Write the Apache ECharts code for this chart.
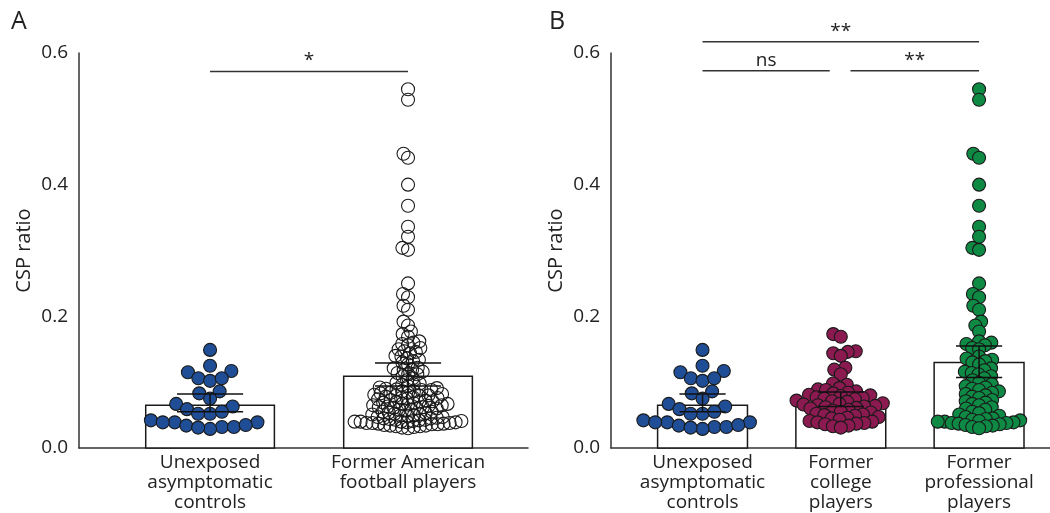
<!DOCTYPE html>
<html><head><meta charset="utf-8">
<script src="https://cdn.jsdelivr.net/npm/echarts@6/dist/echarts.min.js"></script>
<style>html,body{margin:0;padding:0;background:#fff}#c{width:1050px;height:513px}</style>
</head><body><div id="c"></div>
<script>
// ---------- data ----------
const categoriesA = ['Unexposed\nasymptomatic\ncontrols', 'Former American\nfootball players'];
const categoriesB = ['Unexposed\nasymptomatic\ncontrols', 'Former\ncollege\nplayers', 'Former\nprofessional\nplayers'];
const yTicks = [0, 0.2, 0.4, 0.6];

const controls = [0.149, 0.117, 0.125, 0.115, 0.106, 0.102, 0.106, 0.083, 0.086, 0.075, 0.067, 0.063, 0.059,
  0.052, 0.055, 0.052, 0.042, 0.039, 0.039, 0.039, 0.032, 0.029, 0.032, 0.034, 0.031, 0.035];

const college = [0.173, 0.169, 0.147, 0.146, 0.144, 0.140, 0.122, 0.119, 0.112, 0.098, 0.096, 0.091, 0.089, 0.088,
  0.086, 0.084, 0.083, 0.081, 0.080, 0.079, 0.077, 0.076, 0.075, 0.074, 0.072, 0.071, 0.070,
  0.068, 0.067, 0.066, 0.065, 0.064, 0.063, 0.062, 0.061, 0.060, 0.058, 0.057,
  0.055, 0.054, 0.052, 0.051, 0.050, 0.049, 0.047, 0.046, 0.045,
  0.043, 0.041, 0.040, 0.039, 0.038, 0.037, 0.036, 0.034, 0.033, 0.031];

const professional = [0.545, 0.529, 0.447, 0.441, 0.400, 0.368, 0.336, 0.321, 0.304, 0.301,
  0.250, 0.234, 0.229, 0.216, 0.210, 0.192, 0.186, 0.177,
  0.162, 0.160, 0.158, 0.156, 0.152, 0.150,
  0.139, 0.136, 0.134, 0.132, 0.130, 0.127,
  0.121, 0.118, 0.116, 0.114, 0.112, 0.109, 0.106, 0.103,
  0.099, 0.097, 0.094, 0.092, 0.090, 0.088, 0.086, 0.084, 0.082, 0.080, 0.078, 0.076,
  0.073, 0.071, 0.069, 0.067, 0.065, 0.062, 0.060, 0.058, 0.055, 0.053, 0.051, 0.049,
  0.047, 0.045, 0.044, 0.043, 0.042, 0.041, 0.040, 0.040, 0.039, 0.038, 0.038, 0.037,
  0.036, 0.035, 0.034, 0.033, 0.032, 0.030];

const football = college.concat(professional);

const barMeansA = [0.065, 0.109];
const errLowA = [0.055, 0.094];
const errHighA = [0.082, 0.129];
const barMeansB = [0.065, 0.073, 0.130];
const errLowB = [0.055, 0.063, 0.107];
const errHighB = [0.082, 0.085, 0.155];

// significance brackets: [from category, to category, height, label]
const sigA = [[1, 2, 0.572, '*']];
const sigB = [[1, 3, 0.617, '**'], [1, 1.92, 0.573, 'ns'], [2.07, 3, 0.573, '**']];

// ---------- chart ----------
const FONT = '"Open Sans", "Noto Sans", sans-serif';
const INK = '#222';
const chart = echarts.init(document.getElementById('c'), null, {renderer: 'canvas'});

function barData(means, lo, hi) { return means.map((m, i) => [i + 1, m, lo[i], hi[i]]); }

function barRender(params, api) {
  const x = api.value(0), m = api.value(1);
  const p0 = api.coord([x - 0.325, m]);
  const p1 = api.coord([x + 0.325, 0]);
  return {type: 'rect', shape: {x: p0[0], y: p0[1], width: p1[0] - p0[0], height: p1[1] - p0[1]},
    style: {fill: '#fff', stroke: '#1a1a1a', lineWidth: 1.5}};
}
function errRender(params, api) {
  const x = api.value(0), lo = api.value(2), hi = api.value(3);
  const a = api.coord([x - 0.167, hi]), b = api.coord([x + 0.167, hi]);
  const c = api.coord([x - 0.167, lo]), d = api.coord([x + 0.167, lo]);
  const st = {stroke: '#111', lineWidth: 1.5};
  return {type: 'group', children: [
    {type: 'line', shape: {x1: a[0], y1: a[1], x2: b[0], y2: b[1]}, style: st},
    {type: 'line', shape: {x1: c[0], y1: c[1], x2: d[0], y2: d[1]}, style: st},
    {type: 'line', shape: {x1: (a[0] + b[0]) / 2, y1: a[1], x2: (c[0] + d[0]) / 2, y2: c[1]}, style: st}
  ]};
}
const sigSource = {sigA: sigA, sigB: sigB};
function sigRender(params, api) {
  const x1 = api.value(0), x2 = api.value(1), y = api.value(2);
  const label = sigSource[params.seriesName][params.dataIndex][3];
  const p1 = api.coord([x1, y]), p2 = api.coord([x2, y]);
  return {type: 'group', children: [
    {type: 'line', shape: {x1: p1[0], y1: p1[1], x2: p2[0], y2: p2[1]}, style: {stroke: '#333', lineWidth: 1.5}},
    {type: 'text', x: (p1[0] + p2[0]) / 2, y: p1[1] - 1,
      style: {text: label, fill: INK, font: '19px ' + FONT, align: 'center', verticalAlign: 'bottom'}}
  ]};
}

function xAxisOf(gridIndex, min, max, cats) {
  return {type: 'value', gridIndex, min, max,
    axisLine: {show: true, onZero: false, lineStyle: {color: '#333', width: 1.5}},
    axisTick: {show: false}, splitLine: {show: false},
    axisLabel: {customValues: cats.map((c, i) => i + 1), formatter: v => cats[Math.round(v) - 1] || '',
      color: INK, fontSize: 19, fontFamily: FONT, lineHeight: 20, margin: 5}};
}
function yAxisOf(gridIndex) {
  return {type: 'value', gridIndex, min: yTicks[0], max: yTicks[yTicks.length - 1], interval: 0.2,
    name: 'CSP ratio', nameLocation: 'middle', nameGap: 45, nameRotate: 90,
    nameTextStyle: {color: INK, fontSize: 20, fontFamily: FONT},
    axisLine: {show: true, lineStyle: {color: '#333', width: 1.5}},
    axisTick: {show: false}, splitLine: {show: false},
    axisLabel: {color: INK, fontSize: 19, fontFamily: FONT, margin: 11, formatter: v => v.toFixed(1)}};
}
function scatterOf(name, gridIndex, cat, values, color, border) {
  return {name, type: 'scatter', xAxisIndex: gridIndex, yAxisIndex: gridIndex, symbolSize: 13, z: 3,
    itemStyle: {color, borderColor: border, borderWidth: 1.1, opacity: 1},
    data: values.map(v => [cat, v]), silent: true};
}

const groups = [
  {name: 'ctrlA', grid: 0, cat: 1, values: controls, color: '#1f4e96', d: 12},
  {name: 'footA', grid: 0, cat: 2, values: football, color: 'rgba(255,255,255,0)', d: 6},
  {name: 'ctrlB', grid: 1, cat: 1, values: controls, color: '#1f4e96', d: 12},
  {name: 'collB', grid: 1, cat: 2, values: college, color: '#8a1a50', d: 8},
  {name: 'proB', grid: 1, cat: 3, values: professional, color: '#0e8a45', d: 7}
];

const option = {
  animation: false,
  backgroundColor: '#fff',
  grid: [
    {left: 79, top: 53, width: 449, height: 396.5},
    {left: 611, top: 53, width: 439, height: 396.5}
  ],
  xAxis: [xAxisOf(0, 0.338, 2.606, categoriesA), xAxisOf(1, 0.338, 3.513, categoriesB)],
  yAxis: [yAxisOf(0), yAxisOf(1)],
  graphic: [
    {type: 'text', left: 11, top: 9, style: {text: 'A', font: '25px ' + FONT, fill: INK}},
    {type: 'text', left: 549, top: 9, style: {text: 'B', font: '25px ' + FONT, fill: INK}}
  ],
  series: [
    {type: 'custom', name: 'barsA', xAxisIndex: 0, yAxisIndex: 0, z: 1, renderItem: barRender, data: barData(barMeansA, errLowA, errHighA), silent: true},
    {type: 'custom', name: 'barsB', xAxisIndex: 1, yAxisIndex: 1, z: 1, renderItem: barRender, data: barData(barMeansB, errLowB, errHighB), silent: true},
    ...groups.map(g => scatterOf(g.name, g.grid, g.cat, g.values, g.color, '#1a1a1a')),
    {type: 'custom', name: 'errA', xAxisIndex: 0, yAxisIndex: 0, z: 5, renderItem: errRender, data: barData(barMeansA, errLowA, errHighA), silent: true},
    {type: 'custom', name: 'errB', xAxisIndex: 1, yAxisIndex: 1, z: 5, renderItem: errRender, data: barData(barMeansB, errLowB, errHighB), silent: true},
    {type: 'custom', name: 'sigA', xAxisIndex: 0, yAxisIndex: 0, z: 5, clip: false, renderItem: sigRender, data: sigA.map(s => [s[0], s[1], s[2]]), silent: true},
    {type: 'custom', name: 'sigB', xAxisIndex: 1, yAxisIndex: 1, z: 5, clip: false, renderItem: sigRender, data: sigB.map(s => [s[0], s[1], s[2]]), silent: true}
  ]
};
chart.setOption(option);

// beeswarm layout computed in pixel space through the chart's own scales
function swarm(g) {
  const gi = {gridIndex: g.grid};
  const cx = chart.convertToPixel(gi, [g.cat, 0])[0];
  const pts = g.values.map((v, i) => ({i, py: chart.convertToPixel(gi, [g.cat, v])[1]}));
  const order = pts.slice().sort((a, b) => b.py - a.py);
  const placed = [];
  const d = g.d;
  order.forEach(p => {
    const near = placed.filter(q => Math.abs(q.py - p.py) < d);
    const cands = [0];
    near.forEach(q => {
      const h = Math.sqrt(d * d - (q.py - p.py) * (q.py - p.py));
      cands.push(q.x - h, q.x + h);
    });
    cands.sort((a, b) => Math.abs(a) - Math.abs(b));
    let best = cands[cands.length - 1];
    for (const c of cands) {
      const ok = near.every(q => {
        const dx = c - q.x, dy = p.py - q.py;
        return dx * dx + dy * dy >= d * d - 0.01;
      });
      if (ok) { best = c; break; }
    }
    p.x = best;
    placed.push(p);
  });
  const out = new Array(g.values.length);
  pts.forEach(p => {
    out[p.i] = [chart.convertFromPixel(gi, [cx + p.x, p.py])[0], g.values[p.i]];
  });
  return out;
}
chart.setOption({series: groups.map(g => ({name: g.name, data: swarm(g)}))});
</script></body></html>
